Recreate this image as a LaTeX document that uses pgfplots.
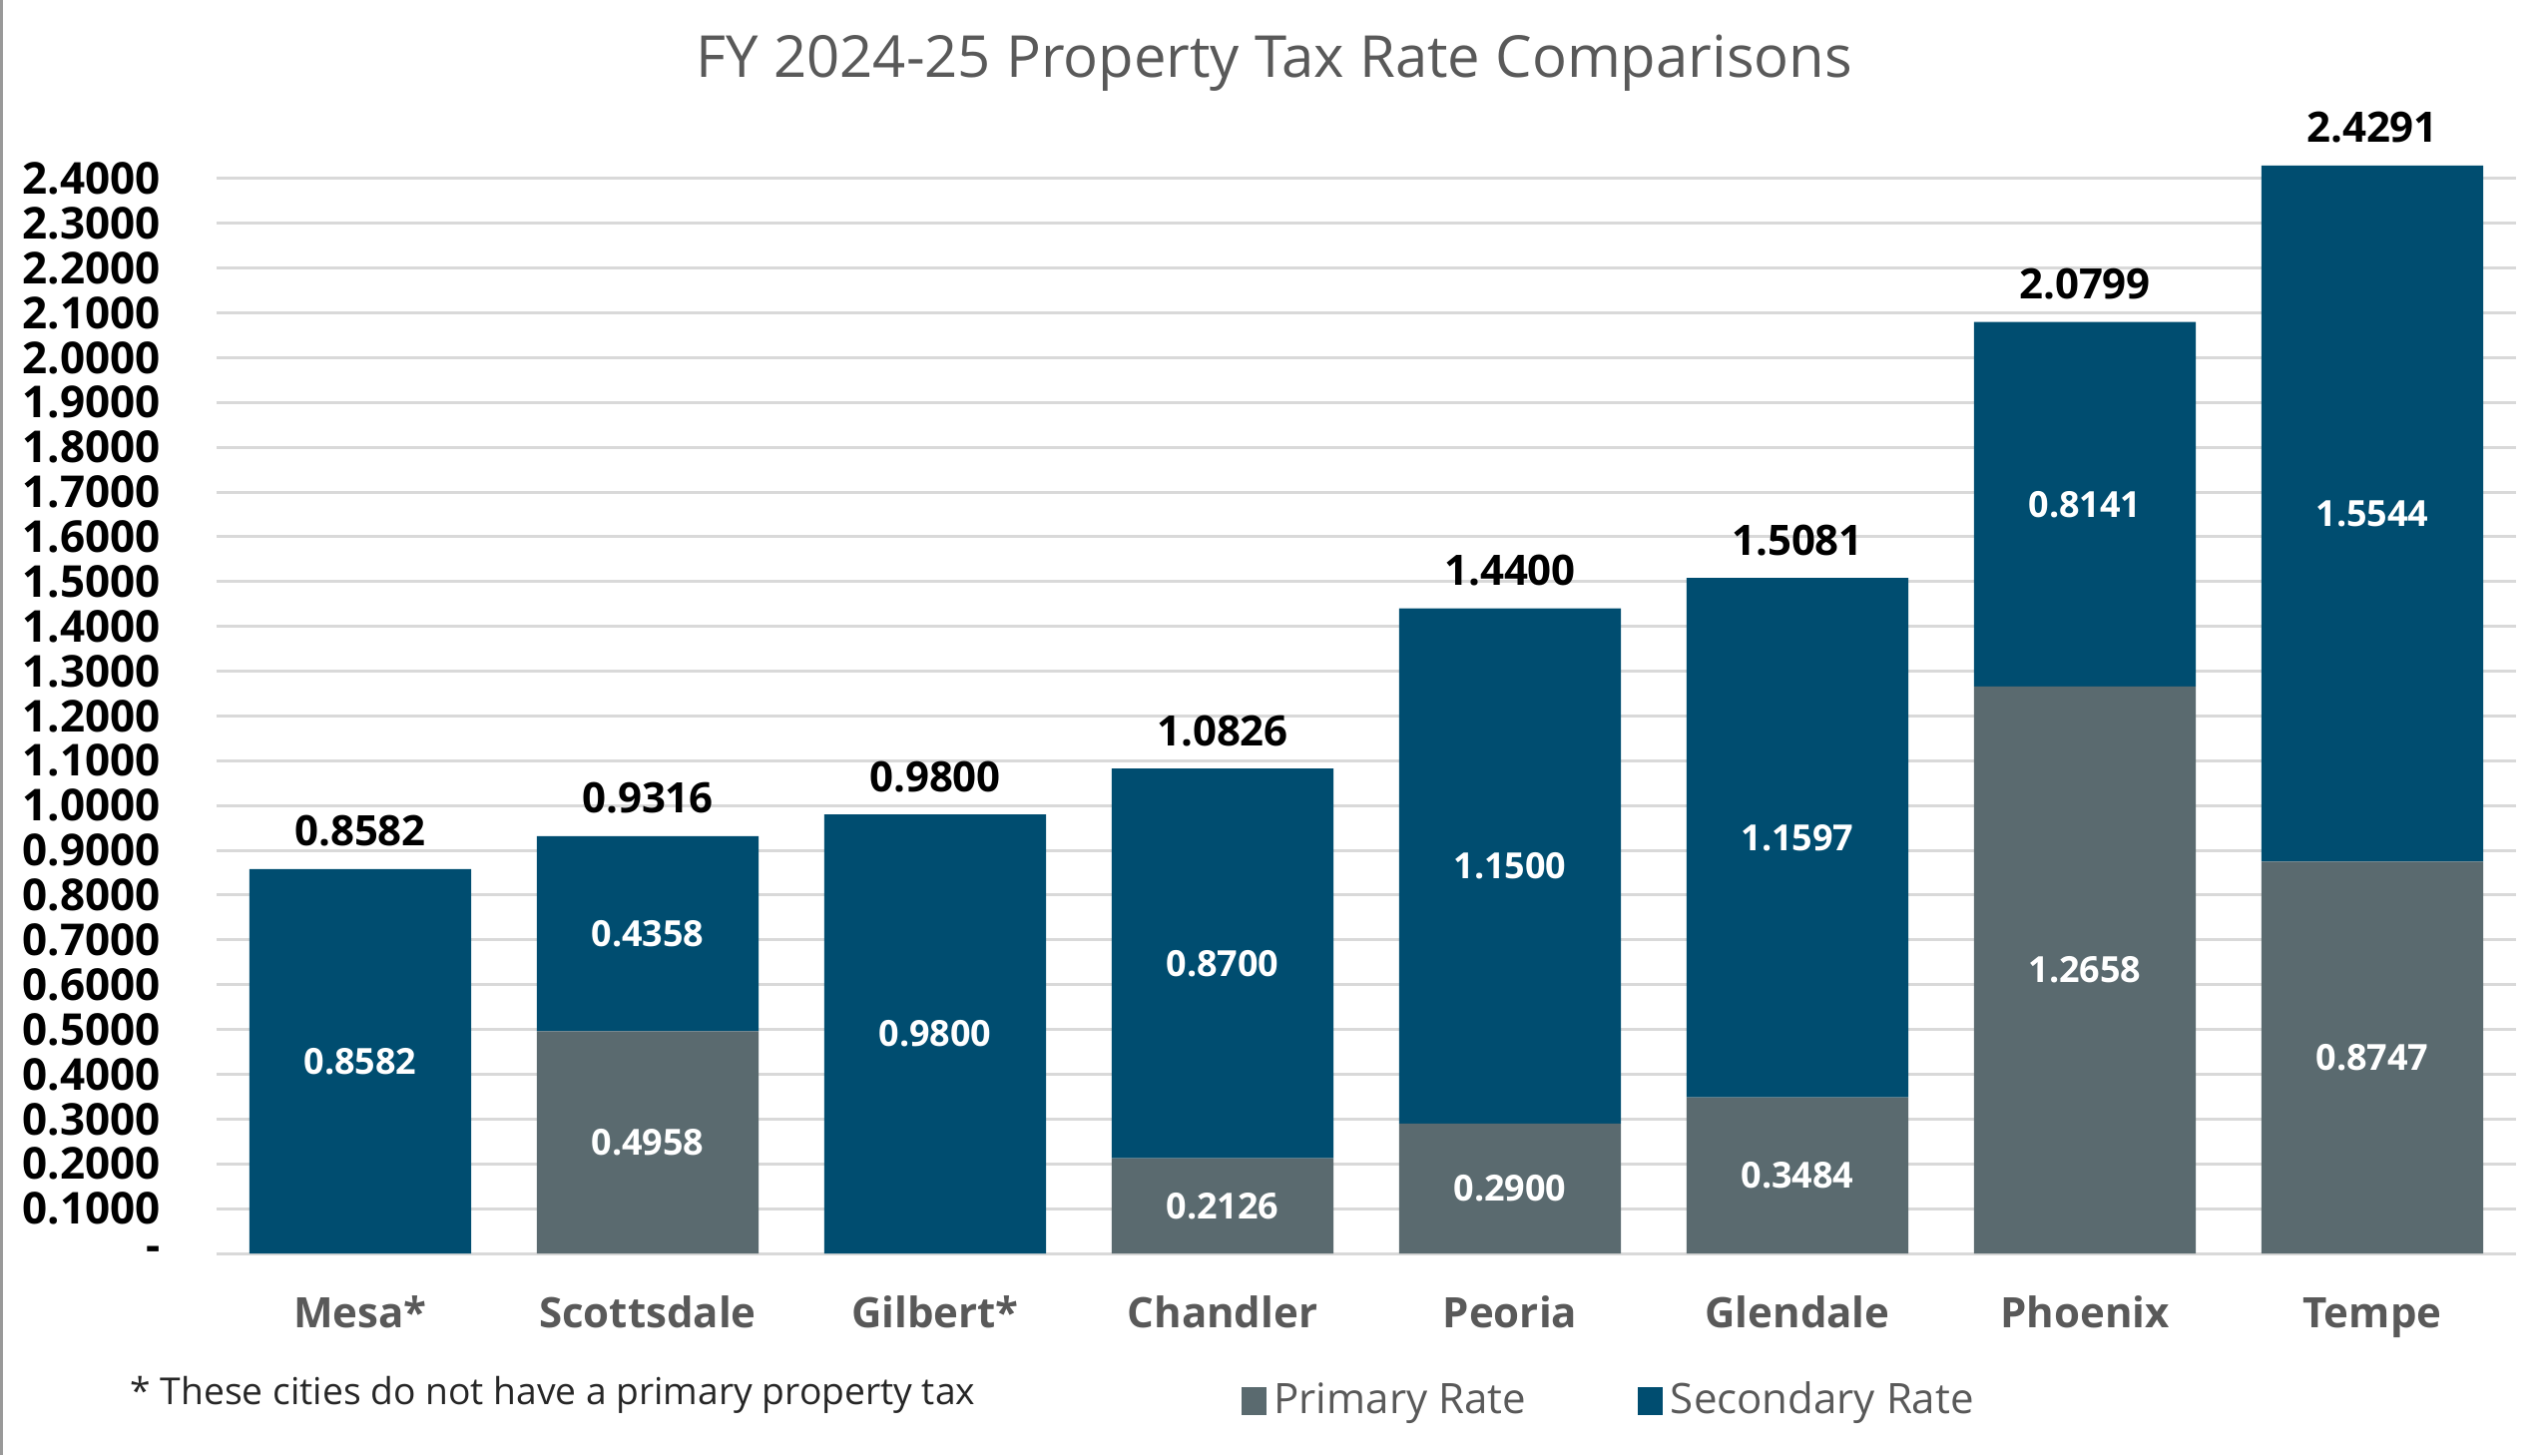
\documentclass[border=0pt]{standalone}
\usepackage{pgfplots}
\pgfplotsset{compat=1.18}
\usepackage{pgfplotstable}
\usepackage{fontspec}
\setmainfont{Open Sans}

\definecolor{primarygray}{RGB}{90,106,111}
\definecolor{secondaryblue}{RGB}{0,77,112}
\definecolor{labelgray}{RGB}{89,89,89}
\definecolor{gridgray}{RGB}{217,217,217}

% FY 2024-25 rates, one row per city
\pgfplotstableread{
x  prim    sec     total
0  0       0.8582  0.8582
1  0.4958  0.4358  0.9316
2  0       0.9800  0.9800
3  0.2126  0.8700  1.0826
4  0.2900  1.1500  1.4400
5  0.3484  1.1597  1.5081
6  1.2658  0.8141  2.0799
7  0.8747  1.5544  2.4291
}\ratedata

\pgfplotsset{
  rateaxis/.style={
    scale only axis,
    width=576pt, height=274.9pt,
    xmin=-0.5, xmax=7.5,
    ymin=0, ymax=2.45,
    clip=false,
    bar width=55.6pt,
    /pgf/number format/assume math mode=true,
  },
  inlabel/.style={
    point meta=explicit,
    visualization depends on={rawy \as \rawy},
    nodes near coords={\pgfmathparse{\rawy>0}\ifnum\pgfmathresult=1 \pgfmathprintnumber[fixed,fixed zerofill,precision=4]{\pgfplotspointmeta}\fi},
    every node near coord/.append style={anchor=center, text=white,
      font=\bfseries\fontsize{9}{10.8}\selectfont},
  },
}

\begin{document}
\begin{tikzpicture}
\begin{axis}[
  rateaxis,
  ybar stacked,
  axis line style={draw=none},
  major tick length=0pt,
  xtick={0,...,7},
  xticklabels={Mesa*,Scottsdale,Gilbert*,Chandler,Peoria,Glendale,Phoenix,Tempe},
  xticklabel style={font=\bfseries\fontsize{10.5}{12}\selectfont, text=labelgray, anchor=base, yshift=-18.6pt},
  ytick={0,0.1,0.2,0.3,0.4,0.5,0.6,0.7,0.8,0.9,1.0,1.1,1.2,1.3,1.4,1.5,1.6,1.7,1.8,1.9,2.0,2.1,2.2,2.3,2.4},
  yticklabels={-,0.1000,0.2000,0.3000,0.4000,0.5000,0.6000,0.7000,0.8000,0.9000,1.0000,1.1000,1.2000,1.3000,1.4000,1.5000,1.6000,1.7000,1.8000,1.9000,2.0000,2.1000,2.2000,2.3000,2.4000},
  yticklabel style={font=\bfseries\fontsize{11}{12}\selectfont, text=black, inner ysep=0pt, xshift=-10.5pt},
  ymajorgrids,
  major grid style={gridgray, line width=0.75pt},
  legend style={draw=none, fill=none, at={(axis description cs:0.44,-0.1346)}, anchor=west,
    legend columns=2, font=\fontsize{10.5}{12}\selectfont, text=labelgray,
    /tikz/every even column/.append style={column sep=26pt}},
  legend image code/.code={\fill[#1] (0pt,-3.5pt) rectangle (6.25pt,3.5pt);},
]
\addplot[fill=primarygray, draw=none, inlabel]
  table[x=x, y=prim, meta=prim] {\ratedata};
\addplot[fill=secondaryblue, draw=none, inlabel]
  table[x=x, y=sec, meta=sec] {\ratedata};
\legend{Primary Rate, Secondary Rate}
\end{axis}

% same frame again, unstacked, only for the totals above the bars
\begin{axis}[
  rateaxis,
  ybar,
  hide axis,
]
\addplot[fill=none, draw=none, point meta=explicit,
  nodes near coords={\pgfmathprintnumber[fixed,fixed zerofill,precision=4]{\pgfplotspointmeta}},
  every node near coord/.append style={anchor=center, text=black,
    font=\bfseries\fontsize{10.5}{12}\selectfont, yshift=9.5pt}]
  table[x=x, y=total, meta=total] {\ratedata};
\end{axis}

\node[font=\fontsize{14.5}{17}\selectfont, text=labelgray]
  at ([shift={(265pt,298.25pt)}]current axis.south west) {FY 2024-25 Property Tax Rate Comparisons};
\node[anchor=west, inner sep=0pt, font=\fontsize{9.3}{11}\selectfont, text=black!85]
  at ([shift={(-21.75pt,-35.5pt)}]current axis.south west) {* These cities do not have a primary property tax};
\draw[black!40, line width=0.75pt]
  ([shift={(-53.9pt,-50.5pt)}]current axis.south west) -- ++(0,364.5pt);

\pgfresetboundingbox
\path[use as bounding box] ([shift={(-54.25pt,-50.5pt)}]current axis.south west)
  rectangle ([shift={(582.5pt,314pt)}]current axis.south west);
\end{tikzpicture}
\end{document}
